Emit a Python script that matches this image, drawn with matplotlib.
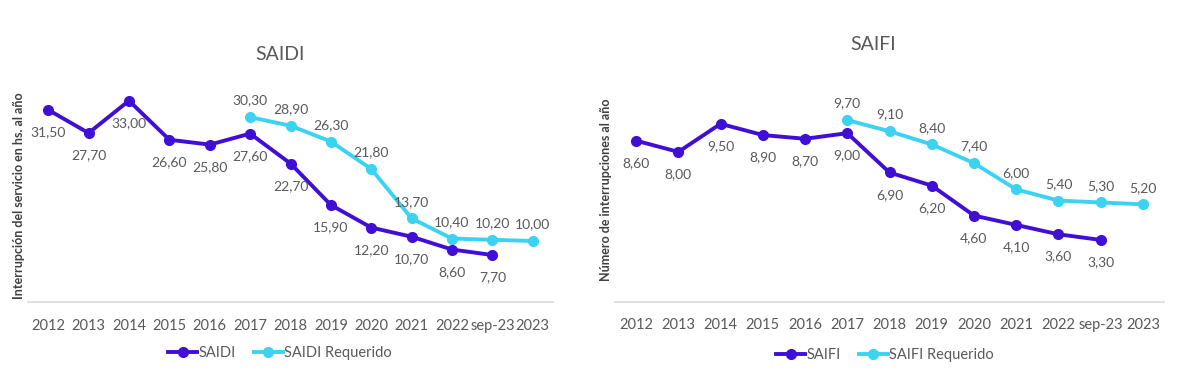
import matplotlib.pyplot as plt
import numpy as np

plt.rcParams['font.family'] = ['Lato', 'DejaVu Sans']

categorias = ['2012', '2013', '2014', '2015', '2016', '2017', '2018', '2019',
              '2020', '2021', '2022', 'sep-23', '2023']

saidi = [31.5, 27.7, 33.0, 26.6, 25.8, 27.6, 22.7, 15.9, 12.2, 10.7, 8.6, 7.7]
saidi_req = [30.3, 28.9, 26.3, 21.8, 13.7, 10.4, 10.2, 10.0]

saifi = [8.6, 8.0, 9.5, 8.9, 8.7, 9.0, 6.9, 6.2, 4.6, 4.1, 3.6, 3.3]
saifi_req = [9.7, 9.1, 8.4, 7.4, 6.0, 5.4, 5.3, 5.2]

oscuro = '#3F0FD6'
claro = '#3CD3F2'
gris = '#595959'

W, H = 1200, 374
fig = plt.figure(figsize=(12, 3.74), dpi=100)


def ax_px(x0, x1, ytop, ybot):
    return fig.add_axes([x0 / W, 1 - ybot / H, (x1 - x0) / W, (ybot - ytop) / H])


def etiqueta(v):
    return f'{v:.2f}'.replace('.', ',')


def grafico(ax, real, req, ymax, nombre, ylabel):
    n = len(categorias)
    x = np.arange(n)
    xr = x[:len(real)]
    xq = x[5:5 + len(req)]
    ax.plot(xq, req, color=claro, lw=2.8, marker='o', ms=7, label=nombre + ' Requerido', zorder=2)
    ax.plot(xr, real, color=oscuro, lw=2.8, marker='o', ms=7, label=nombre, zorder=3)
    for xi, v in zip(xr, real):
        ax.annotate(etiqueta(v), (xi, v), xytext=(0, -16), textcoords='offset points',
                    ha='center', va='center', fontsize=10, color=gris)
    for xi, v in zip(xq, req):
        ax.annotate(etiqueta(v), (xi, v), xytext=(0, 12), textcoords='offset points',
                    ha='center', va='center', fontsize=10, color=gris)
    ax.set_xlim(-0.5, n - 0.5)
    ax.set_ylim(0, ymax)
    ax.set_xticks(x)
    ax.set_xticklabels(categorias, fontsize=10.5, color=gris)
    ax.set_yticks([])
    ax.tick_params(axis='x', length=0, pad=12)
    for s in ['top', 'right', 'left']:
        ax.spines[s].set_visible(False)
    ax.spines['bottom'].set_color('#D9D9D9')
    ax.spines['bottom'].set_linewidth(1.2)
    ax.set_ylabel(ylabel, fontsize=9, fontweight='bold', color='#404040', labelpad=2)
    h, l = ax.get_legend_handles_labels()
    return [h[1], h[0]], [l[1], l[0]]


ax1 = ax_px(28, 553, 88.5, 302)
h, l = grafico(ax1, saidi, saidi_req, 35, 'SAIDI', 'Interrupción del servicio en hs. al año')
fig.legend(h, l, loc='center', bbox_to_anchor=(280 / W, 1 - 353 / H), ncol=2, frameon=False,
           fontsize=10.5, labelcolor=gris, handlelength=2.0, handletextpad=0.1, columnspacing=1.2)
fig.text(280 / W, 1 - 55 / H, 'SAIDI', ha='center', va='center', fontsize=14, color=gris)

ax2 = ax_px(615, 1164, 77, 301.7)
h, l = grafico(ax2, saifi, saifi_req, 12, 'SAIFI', 'Número de interrupciones al año')
fig.legend(h, l, loc='center', bbox_to_anchor=(885 / W, 1 - 355 / H), ncol=2, frameon=False,
           fontsize=10.5, labelcolor=gris, handlelength=2.0, handletextpad=0.1, columnspacing=1.2)
fig.text(873 / W, 1 - 45 / H, 'SAIFI', ha='center', va='center', fontsize=14, color=gris)

fig.savefig('out.png', dpi=100)
